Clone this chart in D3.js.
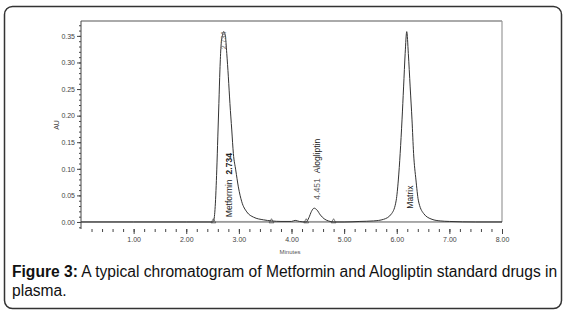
<!DOCTYPE html>
<html>
<head>
<meta charset="utf-8">
<script src="https://cdn.jsdelivr.net/npm/d3@7"></script>
<style>
  body { margin: 0; background: #fff; }
  svg { display: block; font-family: "Liberation Sans", Arial, sans-serif; }
</style>
</head>
<body>
<script>
// chromatogram trace (minutes, AU)
const traceTime = [0.00, 1.00, 2.00, 2.50, 2.52, 2.55, 2.58, 2.60, 2.62, 2.64, 2.66, 2.69, 2.71, 2.74, 2.77, 2.80, 2.83, 2.865, 2.895, 2.94, 2.99, 3.055, 3.15, 3.28, 3.47, 3.62, 3.80, 4.00, 4.07, 4.15, 4.28, 4.33, 4.38, 4.43, 4.48, 4.55, 4.62, 4.70, 4.80, 5.00, 5.30, 5.56, 5.75, 5.905, 5.99, 6.03, 6.065, 6.10, 6.13, 6.16, 6.19, 6.22, 6.255, 6.29, 6.32, 6.365, 6.41, 6.51, 6.67, 6.825, 7.00, 7.50, 8.00];
const traceAU = [0.000, 0.000, 0.000, 0.000, 0.002, 0.029, 0.098, 0.160, 0.223, 0.286, 0.330, 0.352, 0.358, 0.352, 0.317, 0.273, 0.223, 0.173, 0.129, 0.098, 0.066, 0.038, 0.019, 0.009, 0.004, 0.002, 0.001, 0.001, 0.003, 0.001, 0.000, 0.008, 0.020, 0.026, 0.023, 0.013, 0.006, 0.002, 0.000, 0.000, 0.001, 0.002, 0.005, 0.016, 0.041, 0.079, 0.129, 0.192, 0.254, 0.317, 0.358, 0.317, 0.254, 0.192, 0.129, 0.079, 0.041, 0.016, 0.005, 0.002, 0.001, 0.000, 0.000];

const markerTimes = [2.515, 3.62, 4.28, 4.80];
const xTicks = [1, 2, 3, 4, 5, 6, 7, 8];
const yTicks = [0, 0.05, 0.10, 0.15, 0.20, 0.25, 0.30, 0.35];

const peakNames = ['Metformin', 'Alogliptin', 'Matrix'];
const peakTimes = [2.734, 4.451, 6.19];
const peakRT = ['2.734', '4.451', ''];
const peakLabelAU = [0.009, 0.042, 0.025];

const width = 566, height = 314;
const svg = d3.select('body').append('svg').attr('width', width).attr('height', height);

// outer rounded box
svg.append('rect')
  .attr('x', 4.5).attr('y', 6.5).attr('width', 557).attr('height', 302)
  .attr('rx', 8).attr('fill', 'none').attr('stroke', '#333').attr('stroke-width', 1.5);

const x = d3.scaleLinear().domain([0, 8]).range([81, 502]);
const y = d3.scaleLinear().domain([-0.0132, 0.378]).range([229, 21]);

// plot frame (top & right in grey)
svg.append('line').attr('x1', 81).attr('x2', 502).attr('y1', 21).attr('y2', 21)
  .attr('stroke', '#aaa').attr('stroke-width', 2);
svg.append('line').attr('x1', 502).attr('x2', 502).attr('y1', 21).attr('y2', y(0))
  .attr('stroke', '#999').attr('stroke-width', 1.2);

// y axis
const yAxis = svg.append('g').attr('transform', 'translate(81,0)');
yAxis.append('g')
  .call(d3.axisLeft(y).tickValues(d3.range(-0.01, 0.376, 0.01)).tickSize(2).tickFormat(''))
  .call(g => g.select('.domain').remove());
yAxis.append('g')
  .call(d3.axisLeft(y).tickValues(yTicks).tickSize(4).tickFormat(d3.format('.2f')))
  .call(g => g.select('.domain').attr('d', `M0,${y.range()[0]}V${y.range()[1]}`));
yAxis.selectAll('line').attr('stroke', '#444');
yAxis.selectAll('.domain').attr('stroke', '#444');
yAxis.selectAll('text').attr('font-size', 7).attr('fill', '#444').attr('dx', 1);

svg.append('text')
  .attr('transform', 'translate(59,125) rotate(-90)')
  .attr('text-anchor', 'middle').attr('font-size', 7).attr('fill', '#444')
  .text('AU');

// x axis (ticks only)
const xAxis = svg.append('g').attr('transform', 'translate(0,229)');
xAxis.append('g')
  .call(d3.axisBottom(x).tickValues(d3.range(0.2, 8.01, 0.2)).tickSize(3).tickFormat(''))
  .call(g => g.select('.domain').remove());
xAxis.append('g')
  .call(d3.axisBottom(x).tickValues(xTicks).tickSize(5).tickPadding(3).tickFormat(d3.format('.2f')))
  .call(g => g.select('.domain').remove());
xAxis.selectAll('line').attr('stroke', '#444');
xAxis.selectAll('text').attr('font-size', 7).attr('fill', '#444');

svg.append('text')
  .attr('x', 290).attr('y', 254)
  .attr('text-anchor', 'middle').attr('font-size', 6).attr('fill', '#555')
  .text('Minutes');

// baseline
svg.append('line').attr('x1', 81).attr('x2', 502).attr('y1', y(0)).attr('y2', y(0))
  .attr('stroke', '#555').attr('stroke-width', 1);

// integration baselines
svg.append('line').attr('x1', x(markerTimes[0])).attr('x2', x(markerTimes[1]))
  .attr('y1', y(0.001)).attr('y2', y(0.001)).attr('stroke', '#999').attr('stroke-width', 0.8);
svg.append('line').attr('x1', x(markerTimes[2])).attr('x2', x(markerTimes[3]))
  .attr('y1', y(0.001)).attr('y2', y(0.001)).attr('stroke', '#999').attr('stroke-width', 0.8);

// trace
const pts = traceTime.map((t, i) => [t, traceAU[i]]);
svg.append('path')
  .datum(pts)
  .attr('d', d3.line().x(d => x(d[0])).y(d => y(d[1])).curve(d3.curveMonotoneX))
  .attr('fill', 'none').attr('stroke', '#333').attr('stroke-width', 1);

// peak start/end markers
svg.selectAll('path.marker')
  .data(markerTimes)
  .enter().append('path')
  .attr('class', 'marker')
  .attr('d', d3.symbol().type(d3.symbolTriangle).size(10))
  .attr('transform', d => `translate(${x(d)},${y(0) - 0.5})`)
  .attr('fill', 'none').attr('stroke', '#444').attr('stroke-width', 0.7);

// apex label
svg.append('text')
  .attr('transform', `translate(${x(2.71) + 2},${y(0.325)}) rotate(-90)`)
  .attr('font-size', 7).attr('fill', '#666')
  .text('2.734');

// peak labels
const labelShift = [7, 4.5, 6];
const labels = svg.selectAll('text.peak')
  .data(peakNames)
  .enter().append('text')
  .attr('class', 'peak')
  .attr('transform', (d, i) => `translate(${x(peakTimes[i]) + labelShift[i]},${y(peakLabelAU[i])}) rotate(-90)`)
  .attr('font-size', 8.5).attr('fill', '#222');
labels.filter((d, i) => i === 0).append('tspan').text(d => d);
labels.filter((d, i) => i === 0).append('tspan').attr('dx', 5).attr('font-weight', 'bold').text(peakRT[0]);
labels.filter((d, i) => i === 1).append('tspan').attr('fill', '#666').text(peakRT[1]);
labels.filter((d, i) => i === 1).append('tspan').attr('dx', 5).text(d => d);
labels.filter((d, i) => i === 2).text(d => d);

// caption
const cap = svg.append('text').attr('x', 12).attr('y', 277).attr('font-size', 15.6).attr('fill', '#111');
cap.append('tspan').attr('font-weight', 'bold').text('Figure 3:');
cap.append('tspan').text(' A typical chromatogram of Metformin and Alogliptin standard drugs in');
svg.append('text').attr('x', 12).attr('y', 296).attr('font-size', 15.6).attr('fill', '#111')
  .text('plasma.');
</script>
</body>
</html>
